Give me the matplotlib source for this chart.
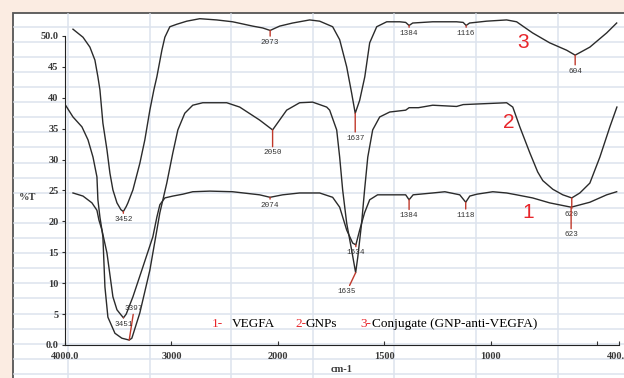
import numpy as np
import matplotlib
matplotlib.use('Agg')
import matplotlib.pyplot as plt
from matplotlib.patches import Rectangle

# FTIR spectra, %T vs wavenumber (cm-1)
wn_vegfa = [3925, 3831, 3747, 3700, 3681, 3653, 3606, 3550, 3512, 3480, 3451, 3425,
            3362, 3269, 3175, 3137, 3109, 3062, 2987, 2894, 2800, 2640, 2425, 2172,
            2074, 1978, 1898, 1804, 1743, 1710, 1677, 1649, 1634, 1616, 1593, 1569,
            1532, 1428, 1400, 1384, 1365, 1273, 1216, 1146, 1118, 1099, 1066, 991,
            926, 879, 804, 724, 623, 535, 456, 409]
t_vegfa = [24.6, 24.1, 23.0, 21.8, 20.2, 18.6, 14.9, 7.8, 5.7, 5.0, 4.4, 5.0,
           7.8, 12.6, 17.5, 20.7, 22.7, 23.8, 24.1, 24.4, 24.8, 24.9, 24.8, 24.3,
           23.9, 24.3, 24.6, 24.6, 23.9, 22.3, 18.6, 16.5, 16.2, 18.6, 21.4, 23.5,
           24.3, 24.3, 24.3, 23.5, 24.3, 24.6, 24.8, 24.3, 23.1, 24.1, 24.4, 24.8,
           24.6, 24.3, 23.8, 23.0, 22.3, 23.1, 24.3, 24.8]

wn_gnp = [3995, 3925, 3841, 3784, 3737, 3700, 3691, 3672, 3653, 3644, 3625, 3597,
          3531, 3466, 3397, 3372, 3297, 3203, 3137, 3109, 3044, 2987, 2940, 2875,
          2800, 2706, 2481, 2359, 2172, 2050, 1959, 1898, 1837, 1771, 1757, 1724,
          1710, 1696, 1677, 1654, 1635, 1625, 1607, 1593, 1578, 1555, 1522, 1475,
          1400, 1384, 1340, 1273, 1161, 1130, 926, 897, 864, 817, 780, 756, 709, 662,
          620, 582, 535, 488, 441, 408]
t_gnp = [38.8, 36.9, 35.3, 33.2, 30.4, 27.2, 23.5, 20.7, 18.6, 17.5, 9.4, 4.5,
         1.9, 1.1, 0.8, 1.1, 5.2, 12.1, 18.6, 21.4, 26.2, 31.1, 34.8, 37.5,
         38.8, 39.2, 39.2, 38.5, 36.4, 34.8, 38.0, 39.2, 39.3, 38.5, 38.0, 34.8,
         30.4, 25.1, 19.7, 15.4, 11.7, 14.2, 19.7, 25.1, 30.4, 34.8, 36.9, 37.7,
         38.0, 38.4, 38.4, 38.8, 38.6, 38.9, 39.2, 38.5, 35.3, 31.1, 28.0, 26.6, 25.2, 24.3,
         23.8, 24.6, 26.2, 30.4, 35.3, 38.5]

wn_conj = [3925, 3831, 3766, 3719, 3691, 3672, 3644, 3606, 3578, 3550, 3512, 3475,
           3452, 3425, 3409, 3362, 3297, 3250, 3203, 3165, 3137, 3090, 3062, 3015,
           2950, 2856, 2734, 2575, 2425, 2237, 2143, 2073, 1992, 1931, 1851, 1804,
           1743, 1710, 1677, 1654, 1637, 1616, 1592, 1569, 1536, 1489, 1428, 1400,
           1384, 1367, 1273, 1161, 1130, 1116, 1100, 1020, 926, 879, 804, 724, 644,
           604, 535, 456, 409]
t_conj = [51.1, 49.8, 48.2, 46.1, 43.4, 41.3, 35.9, 31.6, 27.8, 25.1, 23.0, 21.9,
          21.6, 22.4, 23.0, 25.1, 29.4, 33.2, 38.0, 41.3, 43.4, 47.7, 49.8, 51.5,
          51.9, 52.4, 52.8, 52.6, 52.3, 51.6, 51.3, 50.9, 51.6, 52.1, 52.6, 52.4,
          51.5, 49.4, 45.0, 40.8, 37.5, 39.6, 43.4, 48.9, 51.5, 52.3, 52.3, 52.2,
          51.7, 52.1, 52.3, 52.3, 52.2, 51.7, 52.1, 52.4, 52.6, 52.3, 50.5, 48.9, 47.7,
          46.9, 48.2, 50.5, 52.1]

# marked peaks
peak_txt = ['2073', '1637', '1384', '1116', '604', '3452', '2050', '3397', '1635',
            '620', '3451', '2074', '1634', '1384', '1118', '623']
peak_wn = [2073, 1637, 1384, 1116, 604, 3452, 2050, 3397, 1635,
           620, 3451, 2074, 1634, 1384, 1118, 623]
peak_t = [50.9, 37.5, 51.7, 51.7, 46.9, 21.6, 34.8, 0.8, 11.7,
          23.8, 4.4, 23.9, 16.2, 23.5, 23.1, 22.3]
# label offsets from the peak, in points
peak_off = [(0, -8.6), (0, -18), (0, -5.8), (0, -5.8), (0, -11.5), (0, -5.8),
            (0, -16.6), (3.6, 23), (-6.5, -13.7), (0, -12.2), (0, -4.6), (0, -5.8),
            (0, -5.8), (0, -11.5), (0, -9.4), (0, -20)]

x_ticks = [4000, 3000, 2000, 1500, 1000, 500, 400]
x_ticklabels = ['4000.0', '3000', '2000', '1500', '1000', '', '400.0']
y_ticks = list(range(0, 51, 5))
y_ticklabels = ['0.0'] + [str(v) for v in y_ticks[1:-1]] + ['50.0']

W, H = 624, 378
RED = '#e8262b'
MARK = '#c0392b'
INK = '#2b2b2b'

fig = plt.figure(figsize=(W / 100, H / 100), dpi=100, facecolor='#fbece2')

# white panel with the faint table grid behind the plot
bg = fig.add_axes([0, 0, 1, 1], zorder=0)
bg.set_xlim(0, W)
bg.set_ylim(H, 0)
bg.axis('off')
bg.add_patch(Rectangle((13, 13), 700, 500, facecolor='white',
                       edgecolor='#555555', lw=1.3))
for gx in np.arange(68, W, 81.6):
    bg.plot([gx, gx], [14, H], color='#dde3ee', lw=1.1)
for gy in np.arange(26.7, H, 15.1):
    bg.plot([14, W], [gy, gy], color='#dde3ee', lw=1.1)

ax = fig.add_axes([65 / W, 1 - 345 / H, (618.6 - 65) / W, (345 - 15) / H], zorder=1)
ax.patch.set_alpha(0)


# the spectrometer plots 2000-400 at twice the scale of 4000-2000
def fwd(w):
    w = np.asarray(w, dtype=float)
    return np.where(w >= 2000, w, 2 * w - 2000)


def inv(p):
    p = np.asarray(p, dtype=float)
    return np.where(p >= 2000, p, (p + 2000) / 2)


ax.set_xscale('function', functions=(fwd, inv))
ax.set_xlim(4000, 400)
ax.set_ylim(0, 330 / 6.18)

ax.plot(wn_vegfa, t_vegfa, color=INK, lw=1.0)
ax.plot(wn_gnp, t_gnp, color=INK, lw=1.0)
ax.plot(wn_conj, t_conj, color=INK, lw=1.0)

for txt, w, t, off in zip(peak_txt, peak_wn, peak_t, peak_off):
    ax.annotate(txt, xy=(w, t), xytext=off, textcoords='offset points',
                ha='center', va='center', fontsize=5.5, family='Liberation Mono',
                color='#333333',
                arrowprops=dict(arrowstyle='-', color=MARK, lw=1.0,
                                shrinkA=0, shrinkB=0))

ax.set_xticks(x_ticks)
ax.set_xticklabels(x_ticklabels)
ax.set_yticks(y_ticks)
ax.set_yticklabels(y_ticklabels)
ax.tick_params(axis='x', direction='in', length=3, width=0.8, pad=5, color='#333333')
ax.tick_params(axis='y', direction='out', length=2.5, width=0.8, pad=2, color='#333333')
for lbl in ax.get_xticklabels() + ax.get_yticklabels():
    lbl.set_fontfamily('Liberation Serif')
    lbl.set_fontweight('bold')
    lbl.set_fontsize(7.5)
    lbl.set_color('#3a3a3a')

for s in ['top', 'right']:
    ax.spines[s].set_visible(False)
ax.spines['left'].set_bounds(0, 50)
ax.spines['left'].set_color('#222222')
ax.spines['bottom'].set_color('#222222')


def px(x, y):
    return x / W, 1 - y / H


fig.text(*px(28, 197), '%T', ha='center', va='center', family='Liberation Serif',
         fontweight='bold', fontsize=7.5, color='#3a3a3a')
fig.text(*px(342, 370), 'cm-1', ha='center', va='center', family='Liberation Serif',
         fontweight='bold', fontsize=7.5, color='#3a3a3a')

# curve numbers
for num, (cx, cy) in zip(['3', '2', '1'], [(523, 42), (509, 123), (528, 212)]):
    fig.text(*px(cx, cy), num, ha='center', va='center', fontsize=15,
             family='Liberation Sans', color=RED)

# legend line
legend_parts = [('1-', RED, 212), ('VEGFA', 'black', 232), ('2-', RED, 295),
                ('GNPs', 'black', 305), ('3-', RED, 360),
                ('Conjugate (GNP-anti-VEGFA)', 'black', 372)]
for txt, col, x0 in legend_parts:
    fig.text(*px(x0, 327), txt, ha='left', va='baseline', fontsize=9.5,
             family='Liberation Serif', color=col)

fig.savefig('out.png', dpi=100, facecolor=fig.get_facecolor())
